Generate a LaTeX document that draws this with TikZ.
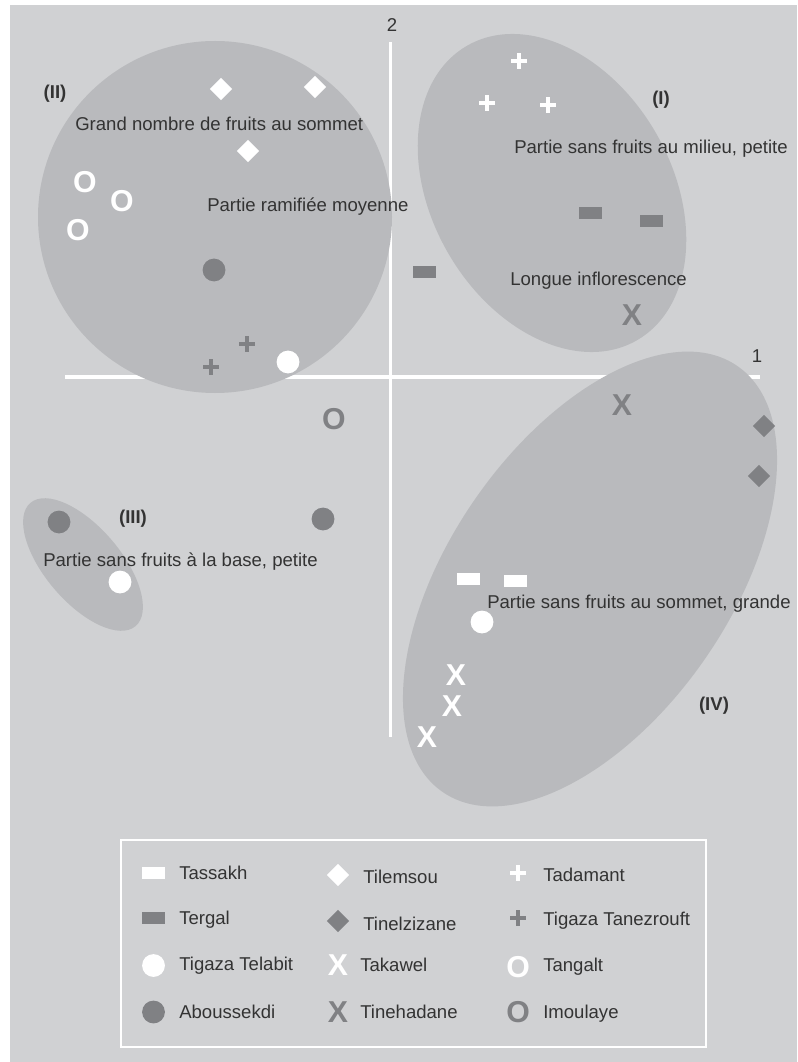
\documentclass[tikz,border=0pt]{standalone}
\usepackage{fontspec}
\setmainfont{Liberation Sans}
\usetikzlibrary{shapes.geometric}
\definecolor{panel}{HTML}{D0D1D3}
\definecolor{blob}{HTML}{B9BABD}
\definecolor{dkgray}{HTML}{808184}
\definecolor{ink}{HTML}{333333}
\tikzset{
  lbl/.style={text=ink, inner sep=0, font=\fontsize{13.2}{15}\selectfont},
  blbl/.style={lbl, font=\fontsize{13.2}{15}\selectfont\bfseries},
  cluster/.style={fill=blob, draw=none},
  axis/.style={draw=white, line width=0.085cm},
  rectm/.style={rectangle, fill=#1, draw=none, inner sep=0, minimum width=0.575cm, minimum height=0.3cm},
  circm/.style={circle, fill=#1, draw=none, inner sep=0, minimum size=0.57cm},
  diam/.style={diamond, fill=#1, draw=none, inner sep=0, minimum size=0.56cm},
  letm/.style={text=#1, inner sep=0, font=\fontsize{21.5}{23}\selectfont\bfseries},
  plusm/.style={rectangle, inner sep=0, minimum size=0.39cm, path picture={
     \fill[color=#1] ([xshift=-0.195cm,yshift=-0.05cm]path picture bounding box.center) rectangle ([xshift=0.195cm,yshift=0.05cm]path picture bounding box.center);
     \fill[color=#1] ([xshift=-0.05cm,yshift=-0.195cm]path picture bounding box.center) rectangle ([xshift=0.05cm,yshift=0.195cm]path picture bounding box.center);}},
}
\begin{document}
\begin{tikzpicture}[x=0.025cm,y=-0.025cm]
\useasboundingbox (0,0) rectangle (797,1062);
\fill[white] (0,0) rectangle (797,1062);
\fill[panel] (10,5) rectangle (797,1062);

% axes
\coordinate (ytop) at (390.5,42);
\coordinate (ybot) at (390.5,737);
\coordinate (xl) at (65,377);
\coordinate (xr) at (760,377);
\draw[axis] (ytop) -- (ybot);
\draw[axis] (xl) -- (xr);
\node[lbl] (ax2) at (392,25) {2};
\node[lbl] (ax1) at (757,356) {1};

% clusters
\fill[cluster] (215,217) circle [x radius=177, y radius=176];
\fill[cluster, rotate around={-60:(552,193)}] (552,193) ellipse [x radius=170, y radius=120];
\fill[cluster, rotate around={55.3:(590,579)}] (590,579) ellipse [x radius=259, y radius=140];
\fill[cluster, rotate around={-49.5:(83,564.5)}] (83,564.5) ellipse [x radius=81, y radius=37.7];

% cluster labels
\node[blbl] (cII) at (55,94) {(II)};
\node[blbl] (cI) at (661,100) {(I)};
\node[blbl] (cIII) at (133,519) {(III)};
\node[blbl] (cIV) at (714,706) {(IV)};

% descriptive texts
\node[lbl, anchor=base west] (t1) at (75,131) {Grand nombre de fruits au sommet};
\node[lbl, anchor=base west] (t2) at (207,211.5) {Partie ramifiée moyenne};
\node[lbl, anchor=base west] (t3) at (514,153.5) {Partie sans fruits au milieu, petite};
\node[lbl, anchor=base west] (t4) at (510,285.5) {Longue inflorescence};
\node[lbl, anchor=base west] (t5) at (43,566.5) {Partie sans fruits à la base, petite};
\node[lbl, anchor=base west] (t6) at (487,608.5) {Partie sans fruits au sommet, grande};

% data points
\node[diam=white] (tile1) at (221,89) {};
\node[diam=white] (tile2) at (315,87) {};
\node[diam=white] (tile3) at (248,151) {};
\node[letm=white] (tang1) at (85,182) {O};
\node[letm=white] (tang2) at (122,201) {O};
\node[letm=white] (tang3) at (78,230) {O};
\node[circm=dkgray] (abou1) at (214,270) {};
\node[plusm=dkgray] (tan1) at (247,344) {};
\node[plusm=dkgray] (tan2) at (211,367) {};
\node[circm=white] (tel1) at (288,362) {};
\node[letm=dkgray] (imou1) at (334,419) {O};
\node[circm=dkgray] (abou2) at (59,522) {};
\node[circm=dkgray] (abou3) at (323,519) {};
\node[circm=white] (tel2) at (120,582) {};

\node[plusm=white] (tad1) at (519,61) {};
\node[plusm=white] (tad2) at (487,103) {};
\node[plusm=white] (tad3) at (548,105) {};
\node[rectm=dkgray] (ter1) at (590,213) {};
\node[rectm=dkgray] (ter2) at (651,221) {};
\node[rectm=dkgray] (ter3) at (424,272) {};
\node[letm=dkgray] (tine1) at (632,315) {X};

\node[letm=dkgray] (tine2) at (622,405) {X};
\node[diam=dkgray] (tinel1) at (764,426) {};
\node[diam=dkgray] (tinel2) at (759,476) {};
\node[rectm=white] (tas1) at (468,579) {};
\node[rectm=white] (tas2) at (515,581) {};
\node[circm=white] (tel3) at (482,622) {};
\node[letm=white] (tak1) at (456,675) {X};
\node[letm=white] (tak2) at (452,706) {X};
\node[letm=white] (tak3) at (427,737) {X};

% legend
\draw[white, line width=0.04cm] (121,840) rectangle (706,1047);
\node[rectm=white] (lg1) at (153.5,872.5) {};
\node[lbl, anchor=base west] (lt1) at (179,879.5) {Tassakh};
\node[rectm=dkgray] (lg2) at (153.5,917.5) {};
\node[lbl, anchor=base west] (lt2) at (179,924) {Tergal};
\node[circm=white] (lg3) at (153.5,965.5) {};
\node[lbl, anchor=base west] (lt3) at (179,970.5) {Tigaza Telabit};
\node[circm=dkgray] (lg4) at (153.5,1012) {};
\node[lbl, anchor=base west] (lt4) at (179,1018.5) {Aboussekdi};

\node[diam=white] (lg5) at (338,875) {};
\node[lbl, anchor=base west] (lt5) at (363,883.3) {Tilemsou};
\node[diam=dkgray] (lg6) at (338,921) {};
\node[lbl, anchor=base west] (lt6) at (363,930) {Tinelzizane};
\node[letm=white] (lg7) at (338,965.5) {X};
\node[lbl, anchor=base west] (lt7) at (360,971.7) {Takawel};
\node[letm=dkgray] (lg8) at (338,1012) {X};
\node[lbl, anchor=base west] (lt8) at (360,1018.3) {Tinehadane};

\node[plusm=white] (lg9) at (518,873) {};
\node[lbl, anchor=base west] (lt9) at (543,881) {Tadamant};
\node[plusm=dkgray] (lg10) at (518,918) {};
\node[lbl, anchor=base west] (lt10) at (543,925.7) {Tigaza Tanezrouft};
\node[letm=white] (lg11) at (518,967) {O};
\node[lbl, anchor=base west] (lt11) at (543,971) {Tangalt};
\node[letm=dkgray] (lg12) at (518,1012.5) {O};
\node[lbl, anchor=base west] (lt12) at (543,1018.3) {Imoulaye};
\end{tikzpicture}
\end{document}
